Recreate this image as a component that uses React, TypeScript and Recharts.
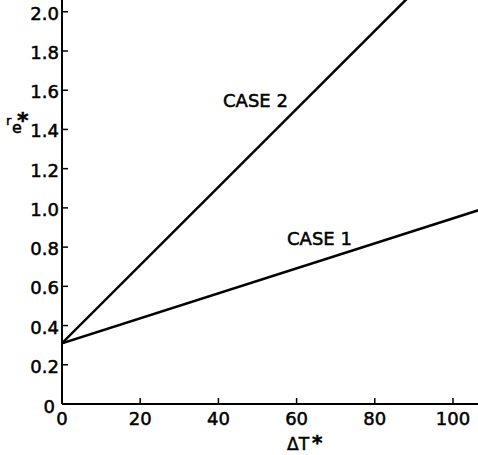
import React from 'react';
import { LineChart, Line, XAxis, YAxis } from 'recharts';

// dimensionless temperature difference (x) and the two cases
const deltaT = [0, 110];
const case1 = [0.31, 1.01];
const case2 = [0.31, 2.5];
const xTicks = [0, 20, 40, 60, 80, 100];
const yTicks = [0, 0.2, 0.4, 0.6, 0.8, 1.0, 1.2, 1.4, 1.6, 1.8, 2.0];

const data = deltaT.map((x, i) => ({ x, case1: case1[i], case2: case2[i] }));

const FONT = '"DejaVu Sans", sans-serif';
const ink = { fill: '#000', stroke: '#000', strokeWidth: 0.5, fontFamily: FONT };

const XTick = (props: any) => {
  const { x, y, payload } = props;
  return (
    <g>
      <line x1={x} y1={y} x2={x} y2={y - 6} stroke="#000" strokeWidth={1.5} />
      <text x={x} y={y + 21} textAnchor="middle" fontSize={18} {...ink}>
        {payload.value}
      </text>
    </g>
  );
};

const YTick = (props: any) => {
  const { x, y, payload } = props;
  const v = payload.value;
  const label = v === 0 ? '0' : v.toFixed(1);
  return (
    <g>
      <line x1={x} y1={y} x2={x + 6} y2={y} stroke="#000" strokeWidth={1.5} />
      <text
        x={v === 0 ? x - 7 : x - 3}
        y={v === 0 ? y + 9 : y + 8}
        textAnchor="end"
        fontSize={18}
        {...ink}
      >
        {label}
      </text>
    </g>
  );
};

const App: React.FC = () => {
  return (
    <div style={{ position: 'relative', width: 478, height: 455, background: '#fff' }}>
      <style>{`body{margin:0}`}</style>
      <LineChart width={478} height={455} data={data} margin={{ top: 0, right: 0, left: 0, bottom: 0 }}>
        <XAxis
          dataKey="x"
          type="number"
          domain={[0, 106.4]}
          ticks={xTicks}
          allowDataOverflow
          height={51}
          axisLine={{ stroke: '#000', strokeWidth: 2 }}
          tickLine={false}
          tickSize={0}
          tickMargin={0}
          tick={<XTick />}
        />
        <YAxis
          type="number"
          domain={[0, 2.06]}
          ticks={yTicks}
          allowDataOverflow
          width={62}
          axisLine={{ stroke: '#000', strokeWidth: 2 }}
          tickLine={false}
          tickSize={0}
          tickMargin={0}
          tick={<YTick />}
        />
        <Line dataKey="case1" stroke="#000" strokeWidth={2.5} dot={false} isAnimationActive={false} />
        <Line dataKey="case2" stroke="#000" strokeWidth={2.5} dot={false} isAnimationActive={false} />
      </LineChart>
      <svg width={478} height={455} style={{ position: 'absolute', left: 0, top: 0, pointerEvents: 'none' }}>
        <text x={223} y={107} fontSize={18} {...ink}>CASE 2</text>
        <text x={287} y={245} fontSize={18} {...ink}>CASE 1</text>
        <text x={6} y={125} fontSize={13} {...ink}>
          r
          <tspan x={12} y={133} fontSize={16}>e</tspan>
          <tspan x={17} y={128} fontSize={22} fontWeight="bold">*</tspan>
        </text>
        <text x={287} y={450} fontSize={17} {...ink}>
          ΔT
          <tspan x={312} y={449} fontSize={20} fontWeight="bold">*</tspan>
        </text>
      </svg>
    </div>
  );
};

export default App;
